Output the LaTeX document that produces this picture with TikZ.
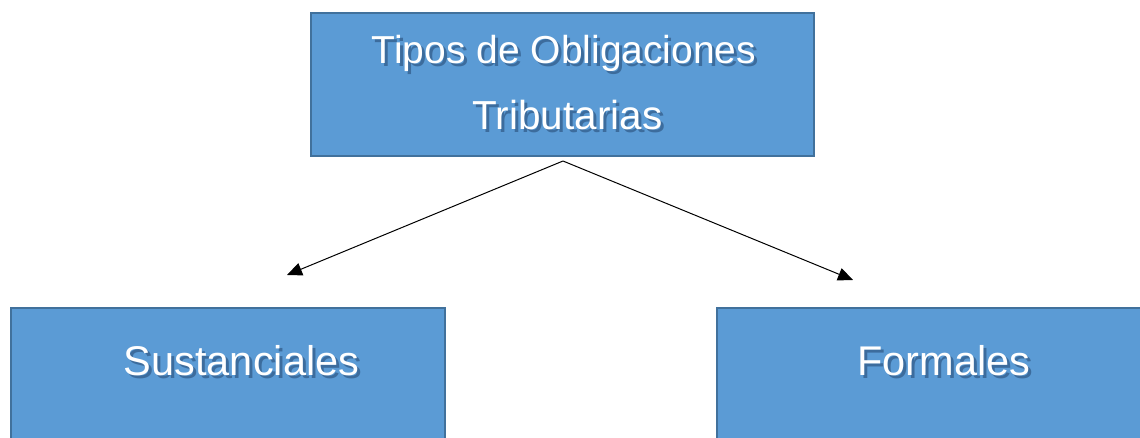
\documentclass[tikz,border=0pt]{standalone}
\usepackage{fontspec}
\setmainfont{Liberation Sans}
\usetikzlibrary{arrows.meta}
\definecolor{boxfill}{HTML}{5B9BD5}
\definecolor{boxline}{HTML}{41719C}
\definecolor{shadowc}{HTML}{1F3F66}
\tikzset{
  box/.style={draw=boxline, fill=boxfill, line width=2pt},
  lbl/.style={text=white, anchor=base, inner sep=0pt},
  shd/.style={text=shadowc, text opacity=0.5, anchor=base, inner sep=0pt},
  conn/.style={line width=1pt, -{Triangle[length=15pt,width=13pt]}}
}
\newcommand{\fa}{\fontsize{39}{46}\selectfont}
\newcommand{\fb}{\fontsize{40.5}{46}\selectfont}
\newcommand{\fc}{\fontsize{41.5}{48}\selectfont}
\begin{document}
\begin{tikzpicture}[x=1pt,y=-1pt]
\useasboundingbox (0,0) rectangle (1140,438);
\clip (0,0) rectangle (1140,438);
% boxes
\node[box, minimum width=503pt, minimum height=143pt, inner sep=0pt] (top) at (562.5,84.5) {};
\node[box, minimum width=434pt, minimum height=150pt, inner sep=0pt, anchor=north west] (left) at (10,307) {};
\node[box, minimum width=440pt, minimum height=150pt, inner sep=0pt, anchor=north west] (right) at (716,307) {};
% shadows
\node[shd, font=\fa] at (567,67) {Tipos de Obligaciones};
\node[shd, font=\fb] at (570.5,133) {Tributarias};
\node[shd, font=\fc] at (244.5,378) {Sustanciales};
\node[shd, font=\fc] at (947,378) {Formales};
% labels
\node[lbl, font=\fa] (t1) at (564,64) {Tipos de Obligaciones};
\node[lbl, font=\fb] (t2) at (567.5,130) {Tributarias};
\node[lbl, font=\fc] (ls) at (241.5,375) {Sustanciales};
\node[lbl, font=\fc] (rs) at (944,375) {Formales};
% connectors
\coordinate (src) at (563,161);
\coordinate (lend) at (287,275);
\coordinate (rend) at (853,280);
\draw[conn] (src) -- (lend);
\draw[conn] (src) -- (rend);
\end{tikzpicture}
\end{document}
